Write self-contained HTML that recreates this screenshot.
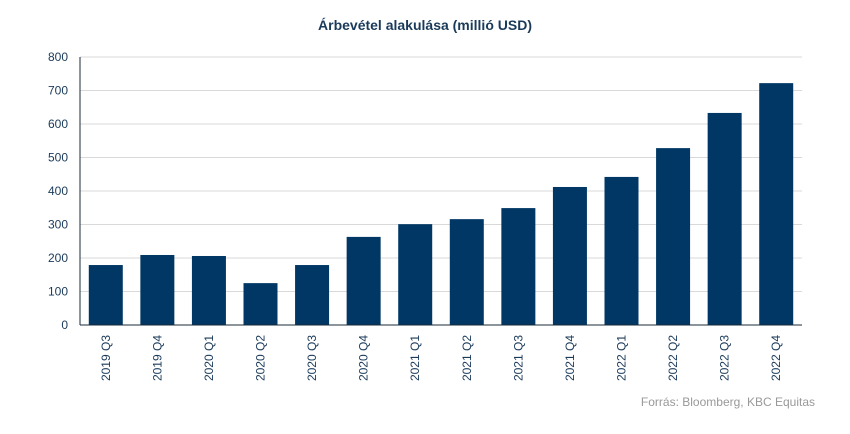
<!DOCTYPE html>
<html><head><meta charset="utf-8"><style>
body{margin:0;background:#fff;width:850px;height:429px;overflow:hidden;font-family:"Liberation Sans","DejaVu Sans",sans-serif;}
</style></head><body>
<svg id="chart" width="850" height="429" xmlns="http://www.w3.org/2000/svg">
<text x="425" y="30" text-anchor="middle" font-size="14" font-weight="bold" fill="#1a3a5a">Árbevétel alakulása (millió USD)</text>
<g id="grid"></g>
<g id="yaxis"></g>
<g id="bars"></g>
<g id="xaxis"></g>
<text x="815" y="406" text-anchor="end" font-size="12" fill="#999">Forrás: Bloomberg, KBC Equitas</text>
</svg>
<script>
const categories=["2019 Q3","2019 Q4","2020 Q1","2020 Q2","2020 Q3","2020 Q4","2021 Q1","2021 Q2","2021 Q3","2021 Q4","2022 Q1","2022 Q2","2022 Q3","2022 Q4"];
const revenue=[179,209,206,125,179,263,301,316,349,412,442,528,633,722];
const yTicks=[0,100,200,300,400,500,600,700,800];
const NS="http://www.w3.org/2000/svg";
const x0=80,x1=802,yTop=57,yBot=325,yMax=800;
const y=v=>yBot-(v/yMax)*(yBot-yTop);
const band=(x1-x0)/categories.length;
const xc=i=>x0+band*(i+0.5);
function mk(tag,attrs,parent){const e=document.createElementNS(NS,tag);for(const k in attrs)e.setAttribute(k,attrs[k]);parent.appendChild(e);return e;}
const grid=document.getElementById('grid'),ya=document.getElementById('yaxis'),bars=document.getElementById('bars'),xa=document.getElementById('xaxis');
yTicks.forEach(t=>{
  if(t>0){const l=mk('line',{x1:x0,x2:x1,y1:y(t),y2:y(t),stroke:'#d9d9d9','stroke-width':1},grid);
  
  }
  const tx=mk('text',{x:68,y:y(t)+4,'text-anchor':'end','font-size':12,fill:'#1a3a5a'},ya);
  tx.textContent=t;
  
  
});
const al=mk('line',{x1:x0,x2:x0,y1:yTop,y2:yBot,stroke:'#1a2a3a','stroke-width':1},ya);


const bw=34;
revenue.forEach((v,i)=>{
  const r=mk('rect',{x:xc(i)-bw/2,y:y(v),width:bw,height:yBot-y(v),fill:'#003764'},bars);
  
  
  const t=mk('text',{x:0,y:0,'text-anchor':'end','font-size':12,fill:'#1a3a5a',transform:`translate(${xc(i)+4},335) rotate(-90)`},xa);
  t.textContent=categories[i];
  
  
});
const bl=mk('line',{x1:x0,x2:x1,y1:yBot,y2:yBot,stroke:'#1a2a3a','stroke-width':1},xa);


</script>
</body></html>
